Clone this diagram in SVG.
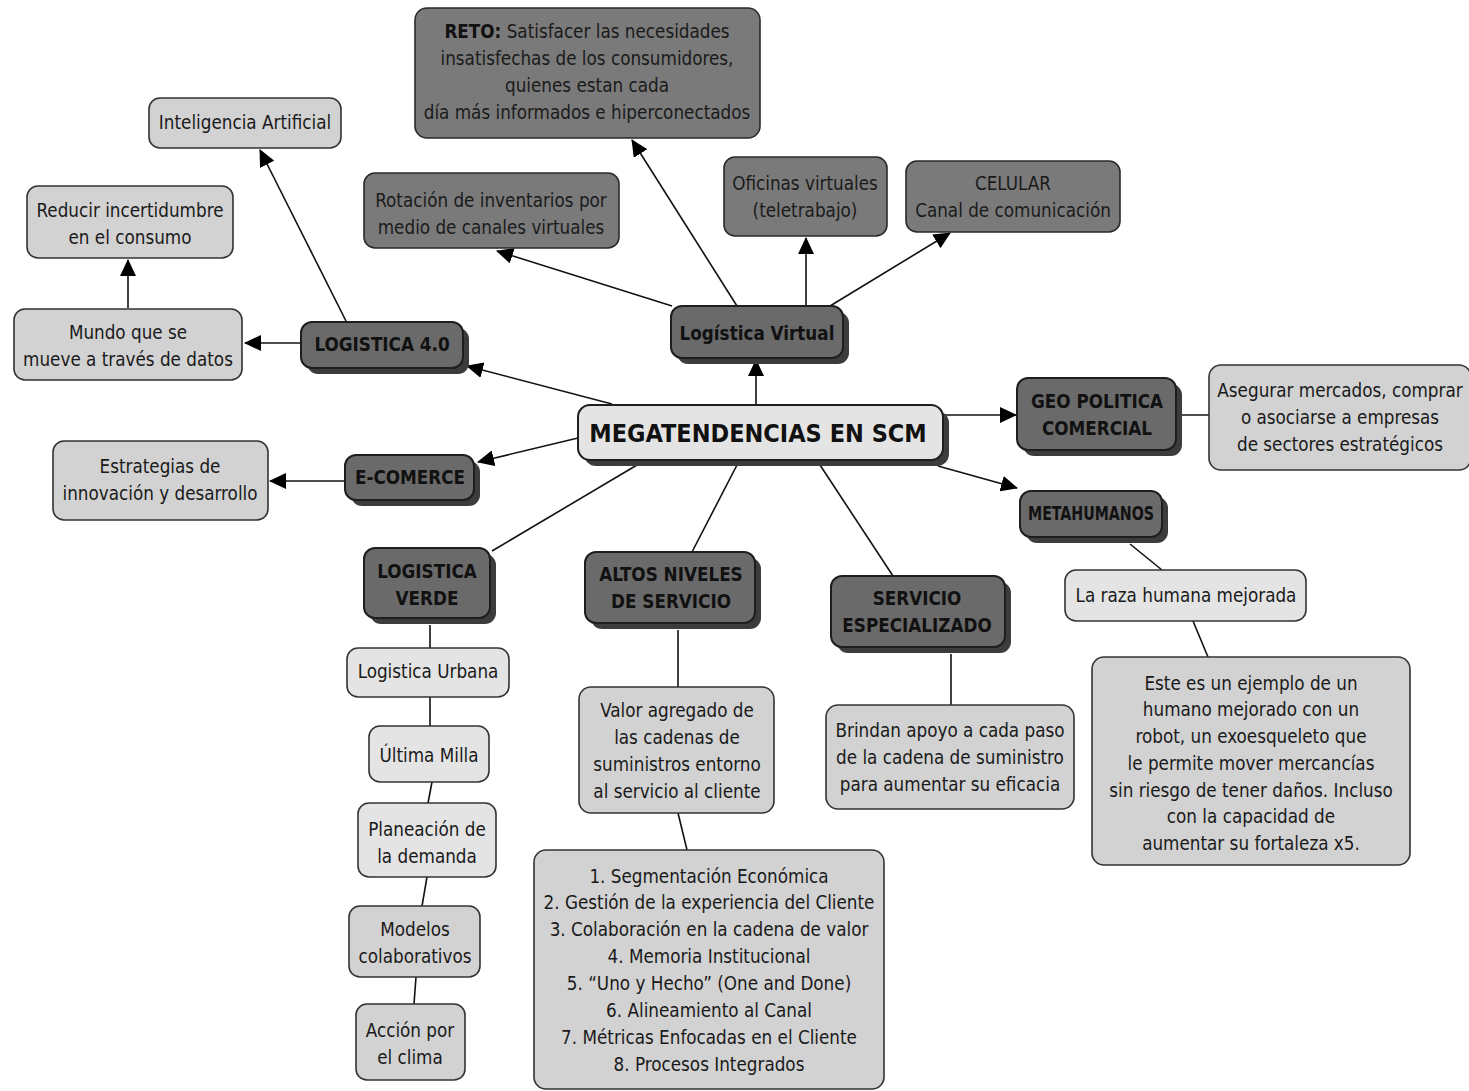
<svg xmlns="http://www.w3.org/2000/svg" width="1469" height="1091" viewBox="0 0 1469 1091">
  <defs>
    <marker id="arrow" markerUnits="userSpaceOnUse" markerWidth="18" markerHeight="16" refX="16" refY="8" orient="auto">
      <path d="M0,0 L17,8 L0,16 Z" fill="#000"/>
    </marker>
  </defs>
  <style>
    text { font-family: "DejaVu Sans Condensed", "DejaVu Sans", sans-serif; text-anchor: middle; fill: #1a1a1a; font-size: 18.7px; }
    .b { font-weight: bold; fill: #111; }
    .big { font-size: 25px; font-weight: bold; fill: #111; }
    .dark { fill: #6a6a6a; stroke: #1e1e1e; stroke-width: 2; }
    .mid { fill: #7a7a7a; stroke: #2a2a2a; stroke-width: 1.6; }
    .light { fill: #d2d2d2; stroke: #333; stroke-width: 1.6; }
    .pale { fill: #e4e4e4; stroke: #333; stroke-width: 1.6; }
    .shadow { fill: #3c3c3c; }
    .edge { stroke: #111; stroke-width: 1.6; fill: none; }
  </style>
  <rect width="1469" height="1091" fill="#fff"/>

  <!-- connectors -->
  <g id="connectors">
    <line class="edge" x1="612" y1="404" x2="467" y2="366" marker-end="url(#arrow)"/>
    <line class="edge" x1="301" y1="343" x2="245" y2="343" marker-end="url(#arrow)"/>
    <line class="edge" x1="346" y1="321" x2="260" y2="150" marker-end="url(#arrow)"/>
    <line class="edge" x1="128" y1="308" x2="128" y2="260" marker-end="url(#arrow)"/>
    <line class="edge" x1="756" y1="405" x2="756" y2="360" marker-end="url(#arrow)"/>
    <line class="edge" x1="737" y1="306" x2="632" y2="140" marker-end="url(#arrow)"/>
    <line class="edge" x1="672" y1="306" x2="497" y2="251" marker-end="url(#arrow)"/>
    <line class="edge" x1="806" y1="306" x2="806" y2="238" marker-end="url(#arrow)"/>
    <line class="edge" x1="830" y1="306" x2="950" y2="233" marker-end="url(#arrow)"/>
    <line class="edge" x1="943" y1="415" x2="1016" y2="415" marker-end="url(#arrow)"/>
    <line class="edge" x1="1176" y1="415" x2="1209" y2="415"/>
    <line class="edge" x1="578" y1="438" x2="478" y2="462" marker-end="url(#arrow)"/>
    <line class="edge" x1="345" y1="481" x2="270" y2="481" marker-end="url(#arrow)"/>
    <line class="edge" x1="938" y1="466" x2="1017" y2="488" marker-end="url(#arrow)"/>
    <line class="edge" x1="1130" y1="544" x2="1162" y2="570"/>
    <line class="edge" x1="1193" y1="621" x2="1208" y2="657"/>
    <line class="edge" x1="637" y1="465" x2="492" y2="551"/>
    <line class="edge" x1="737" y1="465" x2="692" y2="552"/>
    <line class="edge" x1="820" y1="465" x2="893" y2="576"/>
    <line class="edge" x1="678" y1="630" x2="678" y2="687"/>
    <line class="edge" x1="678" y1="813" x2="687" y2="850"/>
    <line class="edge" x1="951" y1="654" x2="951" y2="705"/>
    <line class="edge" x1="430" y1="625" x2="430" y2="648"/>
    <line class="edge" x1="430" y1="697" x2="430" y2="726"/>
    <line class="edge" x1="432" y1="782" x2="428" y2="803"/>
    <line class="edge" x1="427" y1="877" x2="422" y2="906"/>
    <line class="edge" x1="416" y1="977" x2="414" y2="1004"/>
  </g>

  <!-- centre -->
  <g id="megatendencias">
    <rect class="shadow" x="584" y="411" width="365" height="55" rx="12"/>
    <rect class="pale" x="578" y="405" width="365" height="55" rx="12" style="stroke:#1e1e1e;stroke-width:2"/>
    <text class="big" x="758" y="442">MEGATENDENCIAS EN SCM</text>
  </g>

  <!-- LOGISTICA 4.0 branch -->
  <g id="logistica40">
    <rect class="shadow" x="307" y="328" width="162" height="46" rx="11"/>
    <rect class="dark" x="301" y="322" width="162" height="46" rx="11"/>
    <text class="b" x="382" y="351">LOGISTICA 4.0</text>
  </g>
  <g id="inteligencia">
    <rect class="light" x="149" y="98" width="192" height="50" rx="11"/>
    <text x="245" y="129">Inteligencia Artificial</text>
  </g>
  <g id="reducir">
    <rect class="light" x="27" y="186" width="206" height="72" rx="11"/>
    <text x="130" y="217">Reducir incertidumbre</text>
    <text x="130" y="244">en el consumo</text>
  </g>
  <g id="mundo">
    <rect class="light" x="14" y="309" width="228" height="71" rx="11"/>
    <text x="128" y="339">Mundo que se</text>
    <text x="128" y="366">mueve a través de datos</text>
  </g>

  <!-- Logística Virtual branch -->
  <g id="logistica-virtual">
    <rect class="shadow" x="677" y="312" width="172" height="52" rx="11"/>
    <rect class="dark" x="671" y="306" width="172" height="52" rx="11"/>
    <text class="b" x="757" y="340">Logística Virtual</text>
  </g>
  <g id="reto">
    <rect class="mid" x="415" y="8" width="345" height="130" rx="12"/>
    <text x="587" y="38"><tspan font-weight="bold" fill="#111">RETO:</tspan> Satisfacer las necesidades</text>
    <text x="587" y="65">insatisfechas de los consumidores,</text>
    <text x="587" y="92">quienes estan cada</text>
    <text x="587" y="119">día más informados e hiperconectados</text>
  </g>
  <g id="rotacion">
    <rect class="mid" x="364" y="173" width="255" height="75" rx="11"/>
    <text x="491" y="207">Rotación de inventarios por</text>
    <text x="491" y="234">medio de canales virtuales</text>
  </g>
  <g id="oficinas">
    <rect class="mid" x="724" y="157" width="163" height="79" rx="11"/>
    <text x="805" y="190">Oficinas virtuales</text>
    <text x="805" y="217">(teletrabajo)</text>
  </g>
  <g id="celular">
    <rect class="mid" x="906" y="161" width="214" height="71" rx="11"/>
    <text x="1013" y="190">CELULAR</text>
    <text x="1013" y="217">Canal de comunicación</text>
  </g>

  <!-- GEO POLITICA branch -->
  <g id="geo-politica">
    <rect class="shadow" x="1023" y="384" width="159" height="72" rx="11"/>
    <rect class="dark" x="1017" y="378" width="159" height="72" rx="11"/>
    <text class="b" x="1097" y="408">GEO POLITICA</text>
    <text class="b" x="1097" y="435">COMERCIAL</text>
  </g>
  <g id="asegurar">
    <rect class="light" x="1209" y="365" width="262" height="105" rx="12"/>
    <text x="1340" y="397">Asegurar mercados, comprar</text>
    <text x="1340" y="424">o asociarse a empresas</text>
    <text x="1340" y="451">de sectores estratégicos</text>
  </g>

  <!-- E-COMERCE branch -->
  <g id="e-comerce">
    <rect class="shadow" x="351" y="461" width="129" height="45" rx="11"/>
    <rect class="dark" x="345" y="455" width="129" height="45" rx="11"/>
    <text class="b" x="410" y="484">E-COMERCE</text>
  </g>
  <g id="estrategias">
    <rect class="light" x="53" y="441" width="215" height="79" rx="11"/>
    <text x="160" y="473">Estrategias de</text>
    <text x="160" y="500">innovación y desarrollo</text>
  </g>

  <!-- METAHUMANOS branch -->
  <g id="metahumanos">
    <rect class="shadow" x="1026" y="497" width="142" height="46" rx="11"/>
    <rect class="dark" x="1020" y="491" width="142" height="46" rx="11"/>
    <text class="b" x="1091" y="520" textLength="126" lengthAdjust="spacingAndGlyphs">METAHUMANOS</text>
  </g>
  <g id="raza">
    <rect class="pale" x="1065" y="570" width="241" height="51" rx="11"/>
    <text x="1186" y="602">La raza humana mejorada</text>
  </g>
  <g id="ejemplo">
    <rect class="light" x="1092" y="657" width="318" height="208" rx="12"/>
    <text x="1251" y="690">Este es un ejemplo de un</text>
    <text x="1251" y="716">humano mejorado con un</text>
    <text x="1251" y="743">robot, un exoesqueleto que</text>
    <text x="1251" y="770">le permite mover mercancías</text>
    <text x="1251" y="797">sin riesgo de tener daños. Incluso</text>
    <text x="1251" y="823">con la capacidad de</text>
    <text x="1251" y="850">aumentar su fortaleza x5.</text>
  </g>

  <!-- LOGISTICA VERDE branch -->
  <g id="logistica-verde">
    <rect class="shadow" x="370" y="554" width="126" height="70" rx="11"/>
    <rect class="dark" x="364" y="548" width="126" height="70" rx="11"/>
    <text class="b" x="427" y="578">LOGISTICA</text>
    <text class="b" x="427" y="605">VERDE</text>
  </g>
  <g id="urbana">
    <rect class="pale" x="347" y="648" width="162" height="49" rx="11"/>
    <text x="428" y="678">Logistica Urbana</text>
  </g>
  <g id="ultima-milla">
    <rect class="pale" x="369" y="726" width="120" height="56" rx="11"/>
    <text x="429" y="762">Última Milla</text>
  </g>
  <g id="planeacion">
    <rect class="pale" x="358" y="803" width="138" height="74" rx="11"/>
    <text x="427" y="836">Planeación de</text>
    <text x="427" y="863">la demanda</text>
  </g>
  <g id="modelos">
    <rect class="light" x="349" y="906" width="131" height="71" rx="11"/>
    <text x="415" y="936">Modelos</text>
    <text x="415" y="963">colaborativos</text>
  </g>
  <g id="accion">
    <rect class="light" x="356" y="1004" width="109" height="76" rx="11"/>
    <text x="410" y="1037">Acción por</text>
    <text x="410" y="1064">el clima</text>
  </g>

  <!-- ALTOS NIVELES branch -->
  <g id="altos-niveles">
    <rect class="shadow" x="591" y="558" width="170" height="71" rx="11"/>
    <rect class="dark" x="585" y="552" width="170" height="71" rx="11"/>
    <text class="b" x="671" y="581">ALTOS NIVELES</text>
    <text class="b" x="671" y="608">DE SERVICIO</text>
  </g>
  <g id="valor">
    <rect class="light" x="579" y="687" width="195" height="126" rx="12"/>
    <text x="677" y="717">Valor agregado de</text>
    <text x="677" y="744">las cadenas de</text>
    <text x="677" y="771">suministros entorno</text>
    <text x="677" y="798">al servicio al cliente</text>
  </g>
  <g id="lista">
    <rect class="light" x="534" y="850" width="350" height="239" rx="12"/>
    <text x="709" y="883">1. Segmentación Económica</text>
    <text x="709" y="909">2. Gestión de la experiencia del Cliente</text>
    <text x="709" y="936">3. Colaboración en la cadena de valor</text>
    <text x="709" y="963">4. Memoria Institucional</text>
    <text x="709" y="990">5. “Uno y Hecho” (One and Done)</text>
    <text x="709" y="1017">6. Alineamiento al Canal</text>
    <text x="709" y="1044">7. Métricas Enfocadas en el Cliente</text>
    <text x="709" y="1071">8. Procesos Integrados</text>
  </g>

  <!-- SERVICIO ESPECIALIZADO branch -->
  <g id="servicio-especializado">
    <rect class="shadow" x="837" y="582" width="174" height="71" rx="11"/>
    <rect class="dark" x="831" y="576" width="174" height="71" rx="11"/>
    <text class="b" x="917" y="605">SERVICIO</text>
    <text class="b" x="917" y="632">ESPECIALIZADO</text>
  </g>
  <g id="brindan">
    <rect class="light" x="826" y="705" width="248" height="104" rx="12"/>
    <text x="950" y="737">Brindan apoyo a cada paso</text>
    <text x="950" y="764">de la cadena de suministro</text>
    <text x="950" y="791">para aumentar su eficacia</text>
  </g>
</svg>
